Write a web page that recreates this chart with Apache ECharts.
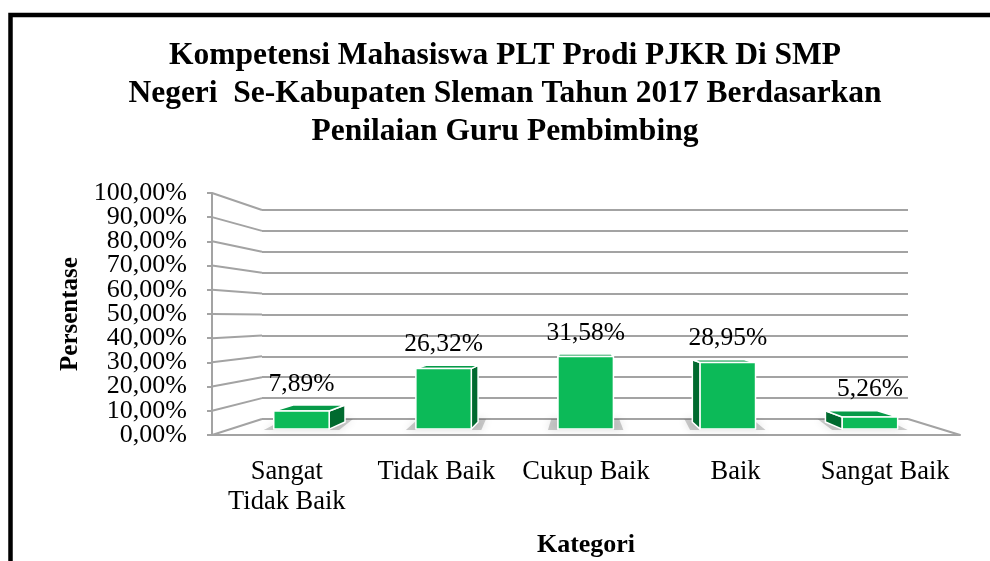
<!DOCTYPE html>
<html>
<head>
<meta charset="utf-8">
<script src="https://cdn.jsdelivr.net/npm/echarts@6/dist/echarts.min.js"></script>
<style>
  html, body { margin: 0; padding: 0; background: #fff; }
  #chart { width: 990px; height: 561px; }
</style>
</head>
<body>
<div id="chart"></div>
<script>
// data
const categories = ['Sangat\nTidak Baik', 'Tidak Baik', 'Cukup Baik', 'Baik', 'Sangat Baik'];
const values = [7.89, 26.32, 31.58, 28.95, 5.26];
const yTicks = [0, 10, 20, 30, 40, 50, 60, 70, 80, 90, 100];

// perspective helpers (vanishing point + depth scales)
const VP = [578, 318];
const S_FRONT = 1.158;   // front edge of the floor / walls
const S_BAR_F = 1.1;     // bar front face
const S_BAR_B = 1.03;    // bar back face
const FONT = '"Liberation Serif", "Times New Roman", serif';
const GRID_COLOR = '#a3a3a3';

function proj(x, y, s) {
    return [VP[0] + s * (x - VP[0]), VP[1] + s * (y - VP[1])];
}
function fmt(v) {
    return v.toFixed(2).replace('.', ',') + '%';
}

const chart = echarts.init(document.getElementById('chart'));

// tick labels sit only 24px apart, so they are split over two axes
// (even / odd steps) to keep echarts from hiding any of them
const yLabelStyle = { fontFamily: FONT, fontSize: 26, color: '#000', margin: 25 };

const option = {
    animation: false,
    title: {
        text: 'Kompetensi Mahasiswa PLT Prodi PJKR Di SMP\nNegeri  Se-Kabupaten Sleman Tahun 2017 Berdasarkan\nPenilaian Guru Pembimbing',
        left: 500,
        top: 32,
        textAlign: 'center',
        textStyle: {
            fontFamily: FONT,
            fontWeight: 'bold',
            fontSize: 31.5,
            lineHeight: 38,
            color: '#000'
        }
    },
    graphic: [{
        type: 'rect',
        shape: { x: 10.5, y: 15, width: 1100, height: 700 },
        style: { fill: 'none', stroke: '#000', lineWidth: 4.5 },
        silent: true
    }],
    grid: [
        // front plane (labels, axis lines)
        { left: 212, top: 193, width: 748, height: 242, outerBoundsMode: 'none' },
        // back wall
        { left: 262, top: 210, width: 646, height: 209, outerBoundsMode: 'none' }
    ],
    xAxis: [{
        gridIndex: 0,
        type: 'category',
        data: categories,
        axisLine: { lineStyle: { color: GRID_COLOR, width: 2 } },
        axisTick: { show: false },
        axisLabel: {
            interval: 0,
            fontFamily: FONT, fontSize: 26.5, color: '#000',
            lineHeight: 30, margin: 22
        },
        name: 'Kategori',
        nameLocation: 'middle',
        nameGap: 97,
        nameTextStyle: { fontFamily: FONT, fontSize: 26, fontWeight: 'bold', color: '#000' }
    }, {
        gridIndex: 1,
        type: 'category',
        data: categories,
        axisLine: { show: false },
        axisTick: { show: false },
        axisLabel: { show: false }
    }],
    yAxis: [{
        gridIndex: 0,
        type: 'value',
        position: 'left',
        min: 0, max: 100, interval: 10,
        axisLine: { show: true, lineStyle: { color: GRID_COLOR, width: 2 } },
        axisTick: { show: true, length: 5, lineStyle: { color: GRID_COLOR, width: 2 } },
        splitLine: { show: false },
        axisLabel: Object.assign({
            formatter: v => (v % 20 === 0 ? fmt(v) : ''),
            showMinLabel: true,
            showMaxLabel: true
        }, yLabelStyle),
        name: 'Persentase',
        nameLocation: 'middle',
        nameGap: 126,
        nameTextStyle: { fontFamily: FONT, fontSize: 25, fontWeight: 'bold', color: '#000' }
    }, {
        gridIndex: 1,
        type: 'value',
        min: 0, max: 100, interval: 10,
        axisLine: { show: false },
        axisTick: { show: false },
        axisLabel: { show: false },
        splitLine: { show: true, lineStyle: { color: GRID_COLOR, width: 2 } }
    }, {
        gridIndex: 0,
        type: 'value',
        position: 'left',
        offset: 0,
        min: 0, max: 100, interval: 10,
        axisLine: { show: false },
        axisTick: { show: false },
        splitLine: { show: false },
        axisLabel: Object.assign({
            formatter: v => (v % 20 === 10 ? fmt(v) : ''),
            showMinLabel: true,
            showMaxLabel: true
        }, yLabelStyle)
    }],
    series: [{
        // side wall gridlines and floor edges
        type: 'custom',
        xAxisIndex: 1,
        yAxisIndex: 1,
        silent: true,
        z: 1,
        data: yTicks.map(v => [0, v]),
        renderItem: function (params, api) {
            const cs = params.coordSys;
            const y = api.coord([0, api.value(1)])[1];
            const a = proj(cs.x, y, S_FRONT);
            const children = [{
                type: 'line',
                shape: { x1: a[0], y1: a[1], x2: cs.x, y2: y },
                style: { stroke: GRID_COLOR, lineWidth: 2 }
            }];
            if (api.value(1) === 0) {
                const b = proj(cs.x + cs.width, y, S_FRONT);
                children.push({
                    type: 'line',
                    shape: { x1: cs.x + cs.width, y1: y, x2: b[0], y2: b[1] },
                    style: { stroke: GRID_COLOR, lineWidth: 2 }
                });
            }
            return { type: 'group', children: children };
        }
    }, {
        // 3D bars
        type: 'custom',
        xAxisIndex: 1,
        yAxisIndex: 1,
        z: 5,
        data: values.map((v, i) => [i, v]),
        renderItem: function (params, api) {
            const p = api.coord([api.value(0), api.value(1)]);
            const b = api.coord([api.value(0), 0]);
            const half = api.size([1, 0])[0] * 0.195;
            const xl = p[0] - half, xr = p[0] + half;
            const FLb = proj(xl, b[1], S_BAR_F), FRb = proj(xr, b[1], S_BAR_F);
            const FLt = proj(xl, p[1], S_BAR_F), FRt = proj(xr, p[1], S_BAR_F);
            const BLb = proj(xl, b[1], S_BAR_B), BRb = proj(xr, b[1], S_BAR_B);
            const BLt = proj(xl, p[1], S_BAR_B), BRt = proj(xr, p[1], S_BAR_B);
            const edge = { stroke: '#ffffff', lineWidth: 1.5, lineJoin: 'round' };
            const side = p[0] < VP[0]
                ? [FRb, FRt, BRt, BRb]
                : [FLb, FLt, BLt, BLb];
            return {
                type: 'group',
                children: [{
                    type: 'polygon',
                    shape: { points: [[FLb[0] - 10, FLb[1] + 1], [FRb[0] + 10, FRb[1] + 1], [BRb[0] + 8, BRb[1] - 3], [BLb[0] - 8, BLb[1] - 3]] },
                    style: { fill: 'rgba(110,110,110,0.35)', shadowBlur: 8, shadowColor: 'rgba(0,0,0,0.35)' },
                    silent: true
                }, {
                    type: 'polygon',
                    shape: { points: side },
                    style: Object.assign({ fill: '#006a2f' }, edge)
                }, {
                    type: 'polygon',
                    shape: { points: [FLt, FRt, BRt, BLt] },
                    style: Object.assign({ fill: '#079a48' }, edge)
                }, {
                    type: 'polygon',
                    shape: { points: [FLb, FRb, FRt, FLt] },
                    style: Object.assign({ fill: '#0cba58' }, edge)
                }, {
                    type: 'text',
                    style: {
                        text: fmt(api.value(1)),
                        x: (FLt[0] + FRt[0]) / 2,
                        y: BLt[1] - 8,
                        align: 'center',
                        verticalAlign: 'bottom',
                        font: '25.5px ' + FONT,
                        fill: '#000'
                    }
                }]
            };
        }
    }]
};

chart.setOption(option);
</script>
</body>
</html>
